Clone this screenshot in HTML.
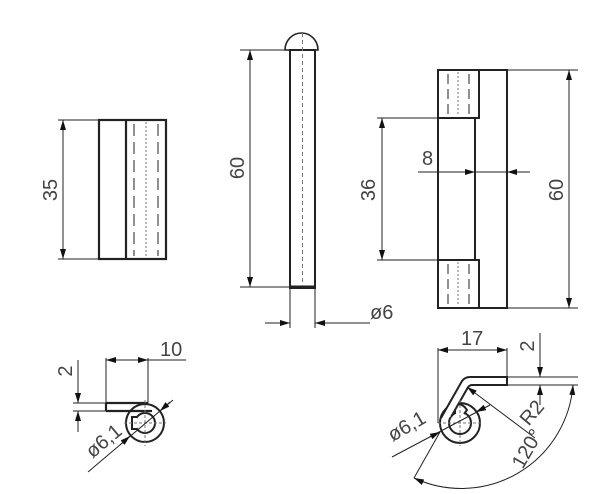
<!DOCTYPE html>
<html><head><style>
html,body{margin:0;padding:0;background:#fff;}
svg{display:block;}
text{font-family:"Liberation Sans",sans-serif;fill:#444;font-size:20px;}
</style></head><body>
<svg width="600" height="494" viewBox="0 0 600 494" xmlns="http://www.w3.org/2000/svg">
<defs>
<marker id="a" viewBox="0 0 10 6" refX="10" refY="3" markerWidth="10" markerHeight="6" markerUnits="userSpaceOnUse" orient="auto-start-reverse">
<path d="M0,0 L10,3 L0,6 z" fill="#111"/></marker>
</defs>
<g stroke="#222" stroke-width="1" fill="none">
<rect x="99" y="120" width="67" height="139" stroke-width="2.2"/>
<line x1="126" y1="120" x2="126" y2="259" stroke-width="2.2"/>
<line x1="134" y1="124" x2="134" y2="256" stroke-dasharray="12,6"/>
<line x1="158" y1="124" x2="158" y2="256" stroke-dasharray="12,6"/>
<line x1="146" y1="122" x2="146" y2="258" stroke-dasharray="2,2" stroke="#777"/>
<line x1="58" y1="120" x2="99" y2="120"/>
<line x1="58" y1="259" x2="99" y2="259"/>
<line x1="63" y1="120" x2="63" y2="259" marker-start="url(#a)" marker-end="url(#a)"/>

<path d="M285,50 A16.5,17 0 0 1 318,50 Z" stroke-width="1.6"/>
<rect x="290" y="50" width="25" height="238" stroke-width="2"/>
<line x1="290" y1="287" x2="315" y2="287" stroke-width="3"/>
<line x1="302.5" y1="33" x2="302.5" y2="286" stroke-dasharray="4,3" stroke="#777"/>
<line x1="240" y1="50" x2="290" y2="50"/>
<line x1="240" y1="287" x2="290" y2="287"/>
<line x1="250" y1="50" x2="250" y2="287" marker-start="url(#a)" marker-end="url(#a)"/>
<line x1="290" y1="288" x2="290" y2="328"/>
<line x1="315" y1="288" x2="315" y2="328"/>
<line x1="265" y1="323" x2="290" y2="323" marker-end="url(#a)"/>
<line x1="370" y1="323" x2="315" y2="323" marker-end="url(#a)"/>

<rect x="438" y="70" width="69" height="238" stroke-width="2"/>
<rect x="438" y="70" width="41" height="48" stroke-width="2"/>
<rect x="438" y="260" width="41" height="48" stroke-width="2"/>
<line x1="475" y1="118" x2="475" y2="260" stroke-width="2"/>
<line x1="448" y1="74" x2="448" y2="114" stroke-dasharray="10,5"/>
<line x1="469" y1="74" x2="469" y2="114" stroke-dasharray="10,5"/>
<line x1="458" y1="72" x2="458" y2="116" stroke-dasharray="2,2" stroke="#777"/>
<line x1="448" y1="264" x2="448" y2="304" stroke-dasharray="10,5"/>
<line x1="469" y1="264" x2="469" y2="304" stroke-dasharray="10,5"/>
<line x1="458" y1="262" x2="458" y2="306" stroke-dasharray="2,2" stroke="#777"/>
<line x1="377" y1="118" x2="438" y2="118"/>
<line x1="377" y1="260" x2="438" y2="260"/>
<line x1="382" y1="118" x2="382" y2="260" marker-start="url(#a)" marker-end="url(#a)"/>
<line x1="418" y1="172" x2="475" y2="172" marker-end="url(#a)"/>
<line x1="530" y1="172" x2="507" y2="172" marker-end="url(#a)"/>
<line x1="475" y1="172" x2="507" y2="172"/>
<line x1="507" y1="70" x2="578" y2="70"/>
<line x1="507" y1="308" x2="578" y2="308"/>
<line x1="569" y1="70" x2="569" y2="308" marker-start="url(#a)" marker-end="url(#a)"/>

<circle cx="145" cy="423" r="19" stroke-width="2"/>
<circle cx="145" cy="423" r="10" stroke-width="2"/>
<path d="M137,417 L132,417 L132,429 L137,429" stroke-width="2" fill="#fff"/>
<path d="M106,403 L148,403 M106,411 L152,411 M106,403 L106,411" stroke-width="2.2"/>
<line x1="145" y1="400" x2="145" y2="446" stroke-dasharray="3,2" stroke="#777"/>
<line x1="124" y1="423" x2="166" y2="423" stroke-dasharray="3,2" stroke="#777"/>
<line x1="106" y1="358" x2="106" y2="403"/>
<line x1="148" y1="358" x2="148" y2="403"/>
<line x1="106" y1="360" x2="148" y2="360" marker-start="url(#a)" marker-end="url(#a)"/>
<line x1="148" y1="360" x2="186" y2="360"/>
<line x1="73" y1="403" x2="106" y2="403"/>
<line x1="73" y1="411" x2="106" y2="411"/>
<line x1="78" y1="360" x2="78" y2="403" marker-end="url(#a)"/>
<line x1="78" y1="432" x2="78" y2="411" marker-end="url(#a)"/>
<line x1="88" y1="472" x2="173" y2="400"/>
<line x1="120" y1="445" x2="130" y2="436" marker-end="url(#a)"/>
<line x1="170" y1="402" x2="160" y2="411" marker-end="url(#a)"/>

<circle cx="460" cy="423" r="20" stroke-width="2"/>
<circle cx="460" cy="423" r="11" stroke-width="2"/>
<path d="M455,414 L455,405 Q462,402 467,410 L464,414" stroke-width="2" fill="#fff"/>
<path d="M441,418 L462,381 Q465,377 470,377 L507,377 L507,385 L472,385 Q469,385 467,389 L451,417" stroke-width="2" fill="#fff"/>
<line x1="460" y1="400" x2="460" y2="446" stroke-dasharray="3,2" stroke="#777"/>
<line x1="438" y1="423" x2="482" y2="423" stroke-dasharray="3,2" stroke="#777"/>
<line x1="438" y1="348" x2="438" y2="423"/>
<line x1="507" y1="348" x2="507" y2="377"/>
<line x1="438" y1="350" x2="507" y2="350" marker-start="url(#a)" marker-end="url(#a)"/>
<line x1="507" y1="377" x2="578" y2="377"/>
<line x1="507" y1="385" x2="578" y2="385"/>
<line x1="540" y1="333" x2="540" y2="377" marker-end="url(#a)"/>
<line x1="540" y1="405" x2="540" y2="385" marker-end="url(#a)"/>
<line x1="467" y1="387" x2="535" y2="438" marker-start="url(#a)"/>
<line x1="392" y1="457" x2="490" y2="405"/>
<line x1="430" y1="437" x2="440" y2="432" marker-end="url(#a)"/>
<line x1="484" y1="408" x2="476" y2="412" marker-end="url(#a)"/>
<line x1="440" y1="432" x2="414" y2="478"/>
<path d="M414,478 A112,112 0 0 0 573,385" marker-start="url(#a)" marker-end="url(#a)"/>
</g>
<text transform="translate(57,190) rotate(-90)" text-anchor="middle">35</text>
<text transform="translate(244,168) rotate(-90)" text-anchor="middle">60</text>
<text x="370" y="319">ø6</text>
<text x="422" y="165">8</text>
<text transform="translate(375,190) rotate(-90)" text-anchor="middle">36</text>
<text transform="translate(563,190) rotate(-90)" text-anchor="middle">60</text>
<text x="160" y="356">10</text>
<text transform="translate(72,371) rotate(-90)" text-anchor="middle">2</text>
<text transform="translate(108,446) rotate(-40)" text-anchor="middle">ø6,1</text>
<text x="461" y="345">17</text>
<text transform="translate(534,346) rotate(-90)" text-anchor="middle">2</text>
<text transform="translate(537,417) rotate(-50)" text-anchor="middle">R2</text>
<text transform="translate(410,432) rotate(-30)" text-anchor="middle">ø6,1</text>
<text transform="translate(533,452) rotate(-60)" text-anchor="middle">120°</text>
</svg>
</body></html>
